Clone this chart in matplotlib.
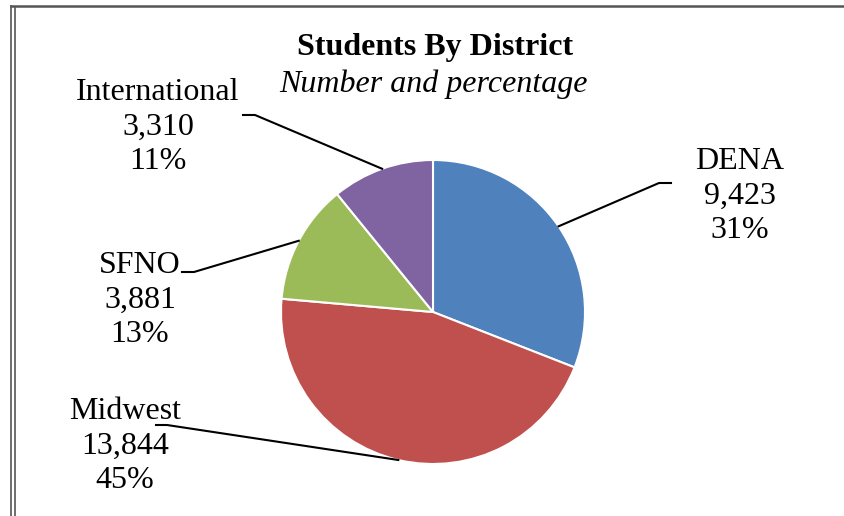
import numpy as np
import matplotlib.pyplot as plt
from matplotlib.lines import Line2D

# data
districts = ['DENA', 'Midwest', 'SFNO', 'International']
students = [9423, 13844, 3881, 3310]
colors = ['#4F81BD', '#C0504D', '#9BBB59', '#8064A2']

plt.rcParams['font.family'] = ['Liberation Serif', 'DejaVu Serif']

W, H = 844, 516
fig = plt.figure(figsize=(W / 100, H / 100), dpi=100)
ax = fig.add_axes([0, 0, 1, 1])

# pie center/radius in pixel space (y down)
cx, cy, r = 433, 312, 152

# inverted y -> counterclock=True draws clockwise on screen; start at top
wedges, _ = ax.pie(students, colors=colors, startangle=-90, counterclock=True,
                   center=(cx, cy), radius=r, frame=True,
                   wedgeprops=dict(edgecolor='white', linewidth=1.5))
ax.set_xlim(0, W)
ax.set_ylim(H, 0)
ax.axis('off')

total = sum(students)
# label text centre and leader anchor (pixels)
label_pos = {
    'DENA': ((740, 196), (671, 183), (659, 183)),
    'Midwest': ((125, 446), (156, 425), (167, 425)),
    'SFNO': ((140, 300), (182, 272), (194, 272)),
    'International': ((158, 127), (243, 115), (255, 115)),
}

for w, name, n in zip(wedges, districts, students):
    mid = np.deg2rad((w.theta1 + w.theta2) / 2)
    ex, ey = cx + r * np.cos(mid), cy + r * np.sin(mid)
    (tx, ty), (a1x, a1y), (a2x, a2y) = label_pos[name]
    ax.plot([a1x, a2x, ex], [a1y, a2y, ey], color='black', lw=1.5,
            solid_joinstyle='miter')
    pct = round(100 * n / total)
    ax.text(tx, ty, f'{name}\n{n:,}\n{pct}%', ha='center', va='center',
            fontsize=23, linespacing=1.24, multialignment='center')

ax.text(435, 47, 'Students By District', ha='center', va='center',
        fontsize=23, fontweight='bold')
ax.text(433, 84, 'Number and percentage', ha='center', va='center',
        fontsize=23, style='italic')

# chart frame (only top/left edges visible)
fig.add_artist(Line2D([11 / W, 1], [1 - 6 / H, 1 - 6 / H], color='#555555', lw=1.8))
fig.add_artist(Line2D([11 / W, 11 / W], [0, 1 - 6 / H], color='#555555', lw=1.2))
fig.add_artist(Line2D([14.5 / W, 14.5 / W], [0, 1 - 8 / H], color='#555555', lw=1.2))

fig.savefig('out.png', dpi=100)
